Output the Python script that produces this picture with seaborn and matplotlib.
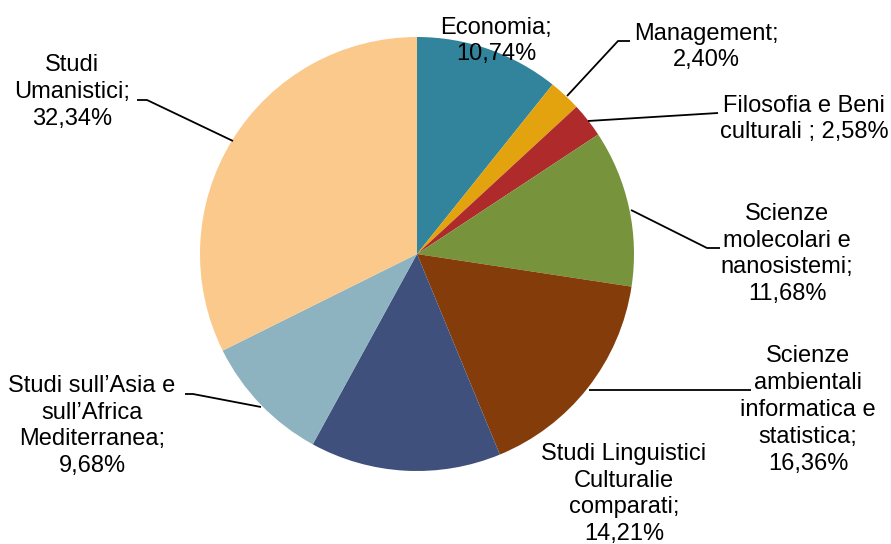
import matplotlib
matplotlib.use("Agg")
import matplotlib.pyplot as plt
import seaborn as sns

# ---- data ----
categories = [
    "Economia;\n10,74%",
    "Management;\n2,40%",
    "Filosofia e Beni\nculturali ; 2,58%",
    "Scienze\nmolecolari e\nnanosistemi;\n11,68%",
    "Scienze\nambientali\ninformatica e\nstatistica;\n16,36%",
    "Studi Linguistici\nCulturalie\ncomparati;\n14,21%",
    "Studi sull\u2019Asia e\nsull\u2019Africa\nMediterranea;\n9,68%",
    "Studi\nUmanistici;\n32,34%",
]
values = [10.74, 2.40, 2.58, 11.68, 16.36, 14.21, 9.68, 32.34]
colors = ["#31849B", "#E2A30E", "#AE2A2B", "#77933C", "#843C0B",
          "#3F507D", "#8DB3C1", "#FBC98B"]

# ---- layout (pixel coordinates, y measured from top) ----
W, H = 891, 544
CX, CY, R = 417, 254, 217
label_pos = [(496, 41), (706, 47), (804, 119), (787, 254),
             (808, 410), (624, 494), (92, 426), (72, 92)]
leaders = [
    None,
    [(567, 96), (618, 41), (630, 41)],
    [(588, 121), (718, 113)],
    [(631, 210), (707, 248), (720, 248)],
    [(589, 390), (751, 390)],
    None,
    [(261, 407), (193, 394), (185, 394)],
    [(233, 141), (147, 100), (137, 100)],
]

sns.set_theme(style="white")
plt.rcParams["font.family"] = ["Liberation Sans", "DejaVu Sans"]

fig = plt.figure(figsize=(W / 100, H / 100), dpi=100)
ax = fig.add_axes([0, 0, 1, 1])
palette = sns.color_palette(colors)

ax.pie(values, colors=palette, startangle=90, counterclock=False,
       center=(CX, H - CY), radius=R, frame=True,
       wedgeprops=dict(linewidth=0))

for text, (x, y) in zip(categories, label_pos):
    ax.text(x, H - y, text, ha="center", va="center", fontsize=17,
            color="black", linespacing=1.28)

for pts in leaders:
    if pts is None:
        continue
    xs = [p[0] for p in pts]
    ys = [H - p[1] for p in pts]
    ax.plot(xs, ys, color="black", linewidth=1.3, solid_capstyle="butt")

ax.set_xlim(0, W)
ax.set_ylim(0, H)
ax.set_aspect("equal")
ax.axis("off")
fig.savefig("out.png", dpi=100, facecolor="white")
